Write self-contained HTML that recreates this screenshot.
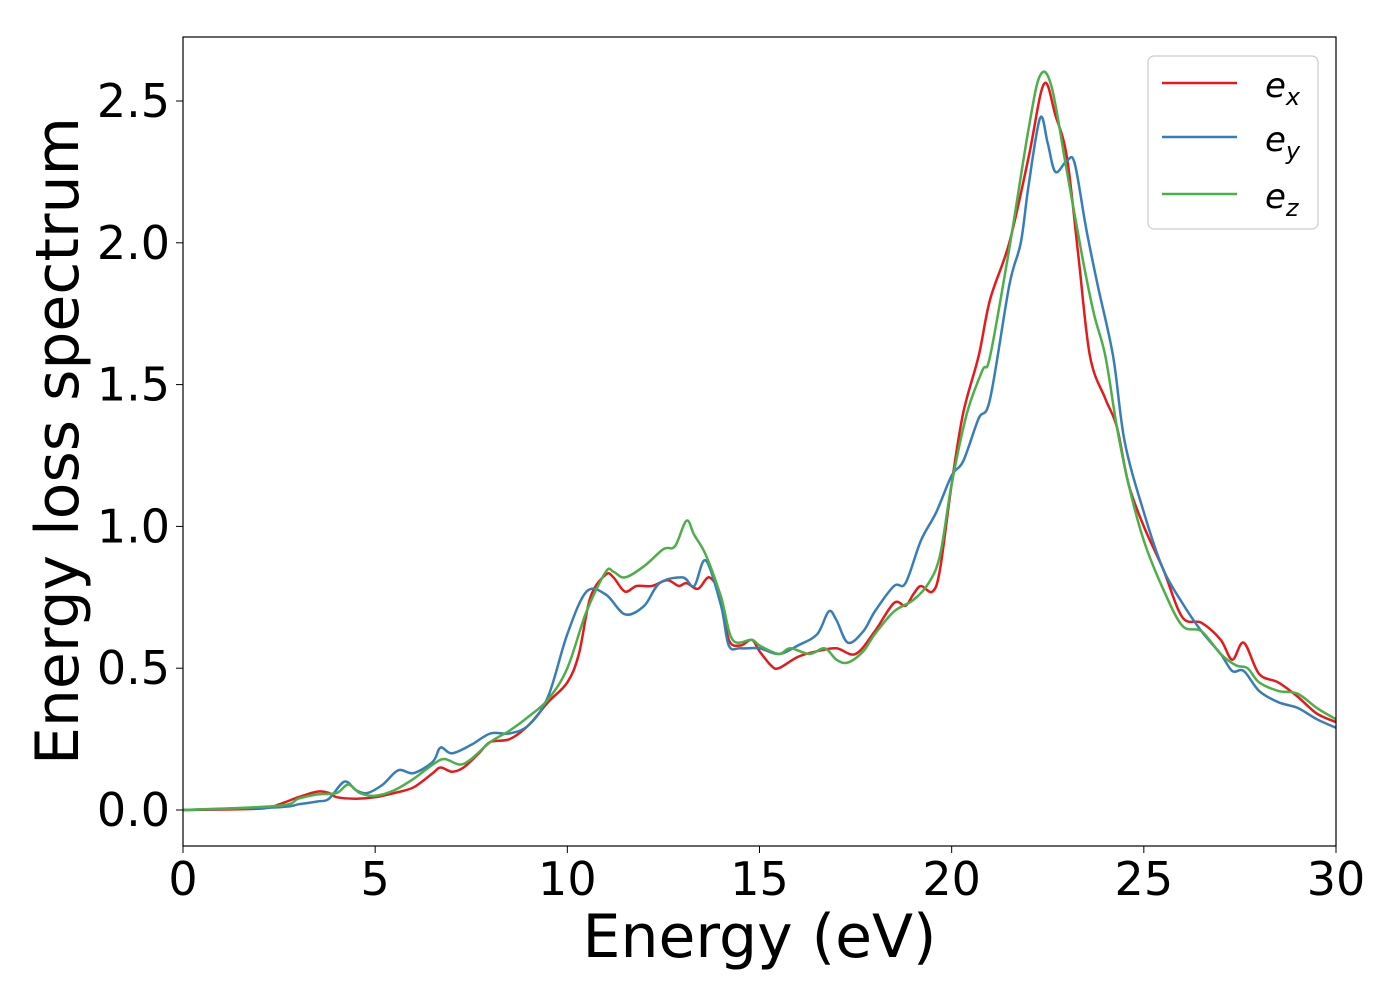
<!DOCTYPE html>
<html><head><meta charset="utf-8"><style>
body{margin:0;background:#fff;}
svg text{font-family:"DejaVu Sans","Liberation Sans",sans-serif;fill:#000;}
</style></head><body>
<svg id="chart" width="1400" height="1000" xmlns="http://www.w3.org/2000/svg">
<rect width="1400" height="1000" fill="#fff"/>
<g id="plot"></g>
<rect x="183" y="37" width="1153" height="809" fill="none" stroke="#000" stroke-width="1.2"/>
<g id="ticks"></g>
<text x="759.5" y="957" font-size="60" text-anchor="middle">Energy (eV)</text>
<text transform="translate(78,441) rotate(-90)" font-size="60" text-anchor="middle">Energy loss spectrum</text>
<g>
<rect x="1148" y="56" width="170" height="173" rx="6" fill="#fff" stroke="#ccc" stroke-width="1.2"/>
<line x1="1162" y1="83" x2="1237" y2="83" stroke="#e41a1c" stroke-width="2.5"/>
<line x1="1162" y1="137" x2="1237" y2="137" stroke="#377eb8" stroke-width="2.5"/>
<line x1="1162" y1="194" x2="1237" y2="194" stroke="#4daf4a" stroke-width="2.5"/>
<text x="1265" y="97" font-size="34" font-style="italic">e<tspan font-size="24" dy="8">x</tspan></text>
<text x="1265" y="151" font-size="34" font-style="italic">e<tspan font-size="24" dy="8">y</tspan></text>
<text x="1265" y="208" font-size="34" font-style="italic">e<tspan font-size="24" dy="8">z</tspan></text>
</g>
</svg>
<script>
const xTicks=[0,5,10,15,20,25,30];
const yTicks=[0.0,0.5,1.0,1.5,2.0,2.5];
const exX=[0,2,2.5,3,3.5,3.8,4,4.5,5,5.5,6,6.5,6.7,7,7.3,7.7,8,8.5,9,9.5,10,10.3,10.6,11,11.2,11.5,11.8,12.2,12.6,12.9,13.1,13.4,13.7,14,14.2,14.5,14.8,15,15.3,15.5,16,16.5,17,17.5,18,18.5,18.8,19,19.2,19.5,19.7,20,20.3,20.7,21,21.5,22,22.4,22.7,23,23.3,23.6,24,24.3,24.6,25,25.5,26,26.5,27,27.3,27.6,28,28.5,29,29.5,30];
const exY=[0,0.005,0.02,0.045,0.065,0.06,0.045,0.04,0.045,0.06,0.08,0.13,0.15,0.135,0.15,0.2,0.24,0.25,0.3,0.38,0.45,0.55,0.75,0.83,0.82,0.77,0.79,0.79,0.81,0.79,0.8,0.78,0.82,0.75,0.6,0.58,0.6,0.56,0.51,0.5,0.54,0.56,0.57,0.55,0.63,0.73,0.72,0.76,0.79,0.77,0.85,1.15,1.4,1.6,1.8,2.0,2.3,2.56,2.45,2.3,1.95,1.6,1.45,1.35,1.15,1.0,0.85,0.68,0.66,0.6,0.53,0.59,0.48,0.45,0.4,0.34,0.31];
const eyX=[0,2.5,3,3.5,3.8,4.2,4.5,4.8,5.2,5.6,6,6.5,6.7,7,7.5,8,8.5,9,9.5,10,10.5,11,11.5,12,12.4,13,13.3,13.6,14,14.2,14.5,15,15.5,16,16.5,16.8,17,17.3,17.7,18,18.5,18.8,19.2,19.6,20,20.3,20.7,21,21.5,21.8,22,22.3,22.5,22.7,23,23.2,23.5,23.8,24.2,24.5,25,25.5,26,26.5,27,27.3,27.6,28,28.5,29,29.5,30];
const eyY=[0,0.01,0.02,0.03,0.04,0.1,0.07,0.06,0.09,0.14,0.13,0.17,0.22,0.2,0.23,0.27,0.27,0.3,0.4,0.62,0.77,0.76,0.69,0.72,0.8,0.82,0.79,0.88,0.72,0.58,0.57,0.57,0.55,0.58,0.62,0.7,0.67,0.59,0.63,0.7,0.79,0.8,0.95,1.05,1.18,1.23,1.38,1.45,1.85,2.0,2.2,2.44,2.35,2.25,2.29,2.28,2.05,1.85,1.6,1.3,1.05,0.85,0.73,0.63,0.55,0.49,0.49,0.42,0.38,0.36,0.32,0.29];
const ezX=[0,2.5,3,3.5,4,4.3,4.6,5,5.5,6,6.5,6.8,7.2,7.5,8,8.5,9,9.5,10,10.5,11,11.2,11.5,12,12.5,12.8,13.1,13.3,13.6,14,14.3,14.8,15,15.5,15.8,16.3,16.7,17,17.3,17.7,18,18.5,19,19.4,19.7,20,20.4,20.8,21,21.5,22,22.3,22.6,23,23.4,23.7,24,24.3,24.6,25,25.5,26,26.5,27,27.4,27.7,28,28.5,29,29.5,30];
const ezY=[0,0.015,0.04,0.055,0.06,0.09,0.06,0.05,0.07,0.11,0.16,0.18,0.16,0.18,0.24,0.28,0.33,0.39,0.5,0.7,0.84,0.84,0.82,0.86,0.92,0.93,1.02,0.97,0.9,0.75,0.6,0.6,0.58,0.55,0.57,0.55,0.57,0.53,0.52,0.56,0.62,0.7,0.74,0.8,0.9,1.15,1.4,1.55,1.6,1.98,2.4,2.59,2.55,2.25,1.95,1.75,1.6,1.35,1.15,0.95,0.78,0.65,0.63,0.55,0.51,0.5,0.45,0.42,0.41,0.36,0.32];

const NS="http://www.w3.org/2000/svg";
const X0=183,X1=1336,Y0=810,Y25=101;
const sx=v=>X0+(v/30)*(X1-X0);
const sy=v=>Y0-(v/2.5)*(Y0-Y25);
function pathFor(xs,ys){
  const p=xs.map((x,i)=>[sx(x),sy(ys[i])]);
  let d="M"+p[0][0].toFixed(1)+","+p[0][1].toFixed(1);
  for(let i=0;i<p.length-1;i++){
    const a=p[Math.max(0,i-1)],b=p[i],c=p[i+1],e=p[Math.min(p.length-1,i+2)];
    const c1=[b[0]+(c[0]-a[0])/6,b[1]+(c[1]-a[1])/6];
    const c2=[c[0]-(e[0]-b[0])/6,c[1]-(e[1]-b[1])/6];
    d+=" C"+c1.map(v=>v.toFixed(1))+" "+c2.map(v=>v.toFixed(1))+" "+c[0].toFixed(1)+","+c[1].toFixed(1);
  }
  return d;
}
const plot=document.getElementById('plot');
const series=[[exX,exY,'#e41a1c','series-ex'],[eyX,eyY,'#377eb8','series-ey'],[ezX,ezY,'#4daf4a','series-ez']];
series.forEach(s=>{
  const el=document.createElementNS(NS,'path');
  el.setAttribute('d',pathFor(s[0],s[1]));
  el.setAttribute('fill','none');
  el.setAttribute('stroke',s[2]);
  el.setAttribute('stroke-width','2.5');
  
  
  plot.appendChild(el);
});
const tg=document.getElementById('ticks');
xTicks.forEach(t=>{
  const l=document.createElementNS(NS,'line');
  l.setAttribute('x1',sx(t));l.setAttribute('x2',sx(t));
  l.setAttribute('y1',846);l.setAttribute('y2',853);
  l.setAttribute('stroke','#000');
  
  
  tg.appendChild(l);
  const tx=document.createElementNS(NS,'text');
  tx.setAttribute('x',sx(t));tx.setAttribute('y',895);
  tx.setAttribute('font-size','46');tx.setAttribute('text-anchor','middle');
  tx.textContent=t;
  
  
  tg.appendChild(tx);
});
yTicks.forEach(t=>{
  const l=document.createElementNS(NS,'line');
  l.setAttribute('x1',176);l.setAttribute('x2',183);
  l.setAttribute('y1',sy(t));l.setAttribute('y2',sy(t));
  l.setAttribute('stroke','#000');
  
  
  tg.appendChild(l);
  const tx=document.createElementNS(NS,'text');
  tx.setAttribute('x',170);tx.setAttribute('y',sy(t)+16);
  tx.setAttribute('font-size','46');tx.setAttribute('text-anchor','end');
  tx.textContent=t.toFixed(1);
  
  
  tg.appendChild(tx);
});
</script>
</body></html>
